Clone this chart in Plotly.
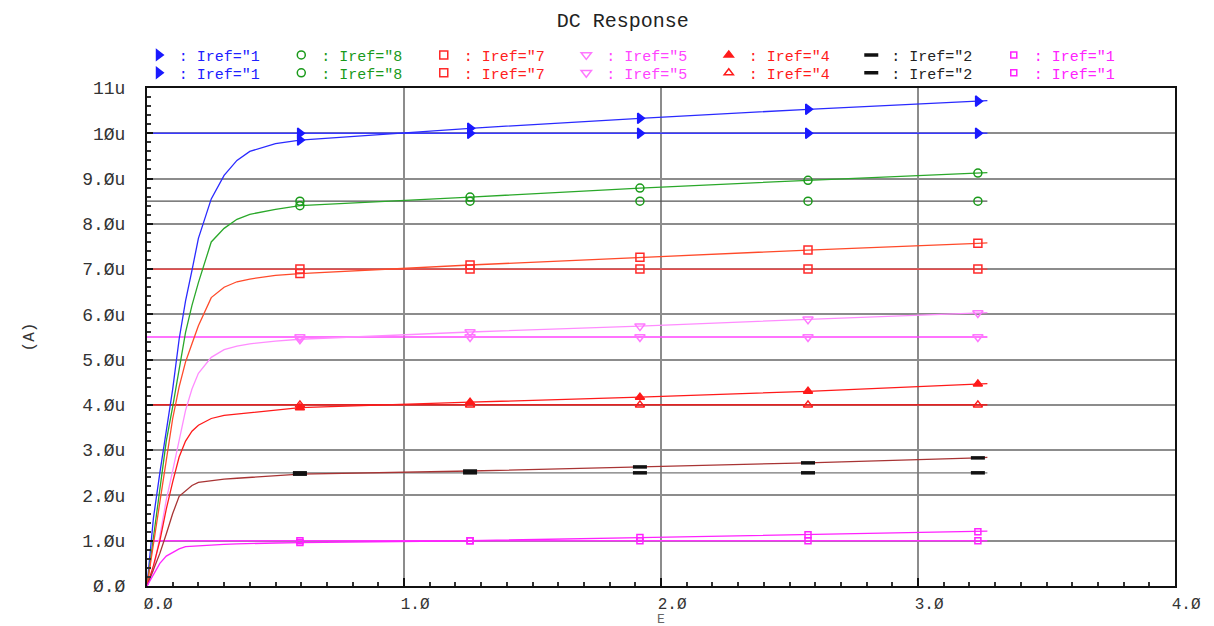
import plotly.graph_objects as go

# ---------------- data ----------------
X = [0, 0.025, 0.05, 0.075, 0.1, 0.125, 0.15, 0.175, 0.2, 0.25, 0.3, 0.35,
     0.4, 0.5, 0.595, 1.257, 1.918, 2.572, 3.233, 3.27]
MARK_X = [0.595, 1.257, 1.918, 2.572, 3.233]

Y_10u = [0, 1.5, 2.5, 3.4, 4.35, 5.45, 6.3, 6.97, 7.68, 8.55, 9.07, 9.4,
         9.6, 9.77, 9.85, 10.11, 10.33, 10.53, 10.71, 10.72]
Y_8u5 = [0, 1.1, 2.2, 3.2, 3.96, 4.8, 5.6, 6.2, 6.7, 7.6, 7.9, 8.1,
         8.21, 8.32, 8.4, 8.59, 8.79, 8.96, 9.12, 9.13]
Y_7u = [0, 0.9, 1.8, 2.7, 3.7, 4.4, 4.95, 5.35, 5.75, 6.37, 6.6, 6.72,
        6.78, 6.86, 6.9, 7.09, 7.26, 7.42, 7.57, 7.58]
Y_5u5 = [0, 0.35, 1.1, 1.9, 2.55, 3.2, 3.88, 4.35, 4.7, 5.05, 5.22, 5.3,
         5.35, 5.41, 5.45, 5.61, 5.74, 5.89, 6.03, 6.04]
Y_4u = [0, 0.45, 1.0, 1.7, 2.3, 2.85, 3.2, 3.42, 3.55, 3.7, 3.77, 3.8,
        3.83, 3.89, 3.94, 4.06, 4.17, 4.3, 4.46, 4.47]
Y_2u5 = [0, 0.35, 0.72, 1.15, 1.6, 1.98, 2.1, 2.22, 2.29, 2.33, 2.36, 2.38,
         2.4, 2.44, 2.47, 2.54, 2.63, 2.72, 2.83, 2.84]
Y_1u = [0, 0.25, 0.5, 0.66, 0.74, 0.82, 0.87, 0.88, 0.89, 0.9, 0.92, 0.93,
        0.94, 0.95, 0.96, 1.0, 1.07, 1.13, 1.2, 1.21]

FLAT_X = [0, 0.595, 1.257, 1.918, 2.572, 3.233, 3.27]
IREF = [10, 8.5, 7, 5.5, 4, 2.5, 1.0]

LEGEND_NAMES = ['Iref="1', 'Iref="8', 'Iref="7', 'Iref="5', 'Iref="4', 'Iref="2', 'Iref="1']

Y_TICKS = [0, 1, 2, 3, 4, 5, 6, 7, 8, 9, 10, 11]
Y_TICKTEXT = ["Ø.Ø", "1.Øu", "2.Øu", "3.Øu", "4.Øu", "5.Øu", "6.Øu",
              "7.Øu", "8.Øu", "9.Øu", "1Øu", "11u"]
X_TICKS = [0, 1, 2, 3, 4]
X_TICKTEXT = ["Ø.Ø", "1.Ø", "2.Ø", "3.Ø", "4.Ø"]
DARK_GRID_X = [1, 3]
DARK_GRID_Y = [3, 4]

# ---------------- styles ----------------
SLOPED = [Y_10u, Y_8u5, Y_7u, Y_5u5, Y_4u, Y_2u5, Y_1u]
CURVE_COLORS = ['#2a2aff', '#2aa82a', '#ff4a2a', '#ff8cff', '#ff1a1a', '#a83434', '#ff22ff']
FLAT_COLORS = ['#3a3aff', '#555555', '#ff3a3a', '#ff44ff', '#ff0000', '#777777', '#ff33ff']
MARK_COLORS = ['#1a1aff', '#1a9a1a', '#ff2a2a', '#ff77ff', '#ff1a1a', '#111111', '#ff22ff']
TEXT_COLORS = ['#2020ff', '#1a9a1a', '#ff2020', '#ff44ff', '#ff1a1a', '#222222', '#ff22ff']
SYM_SLOPED = ['triangle-right', 'circle-open', 'square-open', 'triangle-down-open',
              'triangle-up', 'line-ew', 'square-open']
SYM_FLAT = ['triangle-right', 'circle-open', 'square-open', 'triangle-down-open',
            'triangle-up-open', 'line-ew', 'square-open']
SIZES = [9, 8, 8, 9, 8, 10, 6]

MONO = "Liberation Mono"

fig = go.Figure()

# flat reference lines
for i, v in enumerate(IREF):
    fig.add_trace(go.Scatter(x=FLAT_X, y=[v] * len(FLAT_X), mode='lines',
                             line=dict(color=FLAT_COLORS[i], width=1.3),
                             showlegend=False, hoverinfo='skip'))
# sloped curves
for i, ys in enumerate(SLOPED):
    fig.add_trace(go.Scatter(x=X, y=ys, mode='lines',
                             line=dict(color=CURVE_COLORS[i], width=1.3),
                             showlegend=False, hoverinfo='skip'))


def mk(sym, color, size):
    if sym == 'line-ew':
        return dict(symbol=sym, size=size, color=color, line=dict(color=color, width=3.5))
    return dict(symbol=sym, size=size, color=color, line=dict(color=color, width=1.5))


def label(i):
    c = TEXT_COLORS[i]
    return f'<span style="color:{c}">: {LEGEND_NAMES[i]}</span>'


# markers on sloped curves (legend row 1)
for i, ys in enumerate(SLOPED):
    my = [ys[X.index(mx)] for mx in MARK_X]
    fig.add_trace(go.Scatter(x=MARK_X, y=my, mode='markers',
                             marker=mk(SYM_SLOPED[i], MARK_COLORS[i], SIZES[i]),
                             name=label(i), legend='legend'))
# markers on flat lines (legend row 2)
for i, v in enumerate(IREF):
    fig.add_trace(go.Scatter(x=MARK_X, y=[v] * len(MARK_X), mode='markers',
                             marker=mk(SYM_FLAT[i], MARK_COLORS[i], SIZES[i]),
                             name=label(i), legend='legend2'))

shapes = []
for v in DARK_GRID_X:
    shapes.append(dict(type='line', xref='x', yref='paper', x0=v, x1=v, y0=0, y1=1,
                       line=dict(color='#111111', width=1.6), layer='between'))
for v in DARK_GRID_Y:
    shapes.append(dict(type='line', xref='paper', yref='y', x0=0, x1=1, y0=v, y1=v,
                       line=dict(color='#111111', width=1.6), layer='between'))

leg_common = dict(orientation='h', xanchor='left', yanchor='middle',
                  bgcolor='rgba(0,0,0,0)', font=dict(family=MONO, size=15, color='#222'),
                  entrywidth=97.5, entrywidthmode='pixels', itemclick=False,
                  tracegroupgap=0)

fig.update_layout(
    width=1214, height=626,
    margin=dict(l=147, r=39, t=88, b=40),
    paper_bgcolor='white', plot_bgcolor='white',
    title=dict(text='DC Response', x=0.513, xref='container', xanchor='center',
               y=0.968, yref='container', yanchor='middle',
               font=dict(family=MONO, size=20, color='#222')),
    showlegend=True,
    legend=dict(x=-0.008, y=1.066, **leg_common),
    legend2=dict(x=-0.008, y=1.03, **leg_common),
    shapes=shapes,
    annotations=[dict(text='E', xref='paper', yref='paper', x=0.5, y=-0.068,
                      xanchor='center', yanchor='middle', showarrow=False,
                      font=dict(family=MONO, size=13, color='#666'))],
    xaxis=dict(range=[0, 4], tickvals=X_TICKS, ticktext=X_TICKTEXT,
               automargin=False,
               showgrid=True, gridcolor='#8c8c8c', gridwidth=1.5,
               showline=True, linecolor='#111', linewidth=2, mirror=True,
               ticks='inside', ticklen=8, tickcolor='#111', tickwidth=1.5,
               minor=dict(dtick=0.1, ticks='inside', ticklen=4, tickcolor='#333',
                          showgrid=False),
               ticklabelposition='outside right', ticklabelshift=-5,
               ticklabelstandoff=2,
               tickfont=dict(family=MONO, size=16, color='#333'),
               zeroline=False),
    yaxis=dict(range=[0, 11], tickvals=Y_TICKS, ticktext=Y_TICKTEXT,
               automargin=False,
               showgrid=True, gridcolor='#8c8c8c', gridwidth=1.5,
               showline=True, linecolor='#111', linewidth=2, mirror=True,
               ticks='inside', ticklen=6, tickcolor='#111', tickwidth=1.5,
               minor=dict(dtick=0.2, ticks='inside', ticklen=4, tickcolor='#333',
                          showgrid=False),
               ticklabelstandoff=16,
               tickfont=dict(family=MONO, size=18, color='#333'),
               zeroline=False,
               title=dict(text='(A)', font=dict(family=MONO, size=16, color='#333'),
                          standoff=44)),
)

fig.write_html("out.html")
